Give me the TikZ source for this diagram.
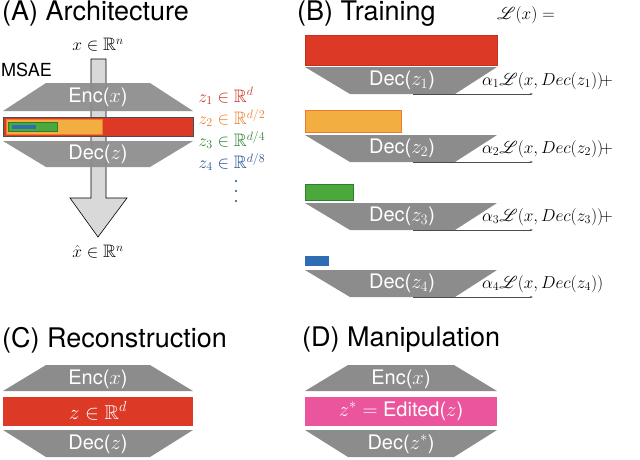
\documentclass[tikz,border=0pt]{standalone}
\usepackage{amsmath,amssymb,mathrsfs}
\usepackage{fontspec}
\setmainfont{TeX Gyre Heros}
\setsansfont{TeX Gyre Heros}
\usetikzlibrary{arrows.meta}
\definecolor{zred}{HTML}{DC3A26}
\definecolor{zorange}{HTML}{F2AE40}
\definecolor{zgreen}{HTML}{4BA83A}
\definecolor{zblue}{HTML}{2E6DB3}
\definecolor{lred}{HTML}{C62F20}
\definecolor{lorange}{HTML}{EE7A2A}
\definecolor{lgreen}{HTML}{2E7D30}
\definecolor{lblue}{HTML}{1F4F8A}
\definecolor{zpink}{HTML}{EB559E}
\definecolor{trap}{HTML}{8C8C8C}
\begin{document}
\begin{tikzpicture}[x=1pt,y=-1pt,
  title/.style={anchor=west,inner xsep=2pt,font=\fontsize{27}{29}\selectfont},
  traplab/.style={text=white,font=\fontsize{20}{21}\selectfont},
  mlab/.style={anchor=west,font=\fontsize{18}{19}\selectfont},
  losslab/.style={anchor=west,inner sep=0pt,font=\fontsize{18}{19}\selectfont},
  trapfill/.style={fill=trap},
  lossline/.style={draw=black!70,line width=0.6pt,-{Stealth[length=3pt,width=2pt]}}]
\useasboundingbox (0,0) rectangle (640,459);
% ---------- A
\node[title] (tA) at (0,14) {(A) Architecture};
\node[font=\fontsize{18}{19}\selectfont] (xin) at (98,45) {$x\in\mathbb{R}^n$};
\node[anchor=west,inner xsep=1pt,font=\fontsize{18}{19}\selectfont] (msae) at (0,70) {MSAE};
\draw[fill=black!15,line width=0.6pt] (91,59) -- (106,59) -- (106,198) -- (127,198) -- (98,237) -- (70,198) -- (91,198) -- cycle;
\fill[trapfill,opacity=0.93] (46,83) -- (150,83) -- (193,111) -- (3,111) -- cycle;
\node[traplab] (encA) at (98,97) {Enc($x$)};
\draw[fill=zred,draw=black!70] (3,117) rectangle (193,136);
\draw[fill=zorange,draw=lorange] (6,119) rectangle (102,134);
\draw[fill=zgreen,draw=lgreen] (8,122) rectangle (57,131);
\fill[zblue] (12,125) rectangle (36,129);
\fill[trapfill,opacity=0.93] (3,141) -- (193,141) -- (150,167) -- (46,167) -- cycle;
\node[traplab] (decA) at (98,154) {Dec($z$)};
\node[mlab,text=lred] (z1) at (195,96) {$z_1\in\mathbb{R}^d$};
\node[mlab,text=lorange] (z2) at (195,118) {$z_2\in\mathbb{R}^{d/2}$};
\node[mlab,text=lgreen] (z3) at (195,140) {$z_3\in\mathbb{R}^{d/4}$};
\node[mlab,text=lblue] (z4) at (195,162) {$z_4\in\mathbb{R}^{d/8}$};
\foreach \yy in {181,191,201}{\fill[lblue] (236,\yy) circle (1.1);}
\node[font=\fontsize{18}{19}\selectfont] (xout) at (98,252) {$\hat{x}\in\mathbb{R}^n$};
% ---------- B
\node[title] (tB) at (295,14) {(B) Training};
\node[losslab] (Lx) at (497,15) {$\mathscr{L}(x) =$};
\draw[fill=zred,draw=lred] (305,35) rectangle (497,65);
\draw[fill=zorange,draw=lorange] (305,110) rectangle (401,132);
\draw[fill=zgreen,draw=lgreen] (305,184) rectangle (353,200);
\fill[zblue] (305,256) rectangle (329,266);
\foreach \t/\i/\sfx in {67/1/+,135/2/+,203/3/+,270/4/}{
  \fill[trapfill] (305,\t) -- (497,\t) -- (455,\t+27) -- (350,\t+27) -- cycle;
  \node[traplab] (dec\i) at (402,\t+13) {Dec($z_{\i}$)};
  \coordinate (ls\i) at (413,\t+27);
  \coordinate (le\i) at (533,\t+27);
  \draw[lossline] (ls\i) -- (le\i);
  \node[losslab] (loss\i) at (482,\t+14) {$\alpha_{\i}\mathscr{L}(x,Dec(z_{\i}))\!\sfx$};
}
% ---------- C
\node[title] (tC) at (0,340) {(C) Reconstruction};
\fill[trapfill] (46,365) -- (150,365) -- (193,391) -- (3,391) -- cycle;
\node[traplab] (encC) at (98,379) {Enc($x$)};
\fill[zred] (3,397) rectangle (193,426);
\node[traplab] (zC) at (98,411) {$z\in\mathbb{R}^d$};
\fill[trapfill] (3,430) -- (193,430) -- (150,457) -- (46,457) -- cycle;
\node[traplab] (decC) at (98,444) {Dec($z$)};
% ---------- D
\node[title] (tD) at (300,340) {(D) Manipulation};
\fill[trapfill] (348,365) -- (454,365) -- (497,391) -- (305,391) -- cycle;
\node[traplab] (encD) at (401,379) {Enc($x$)};
\fill[zpink] (305,397) rectangle (497,426);
\node[traplab] (zD) at (401,411) {$z^{*}=$ Edited($z$)};
\fill[trapfill] (305,430) -- (497,430) -- (454,457) -- (348,457) -- cycle;
\node[traplab] (decD) at (401,444) {Dec($z^{*}$)};
\end{tikzpicture}
\end{document}
